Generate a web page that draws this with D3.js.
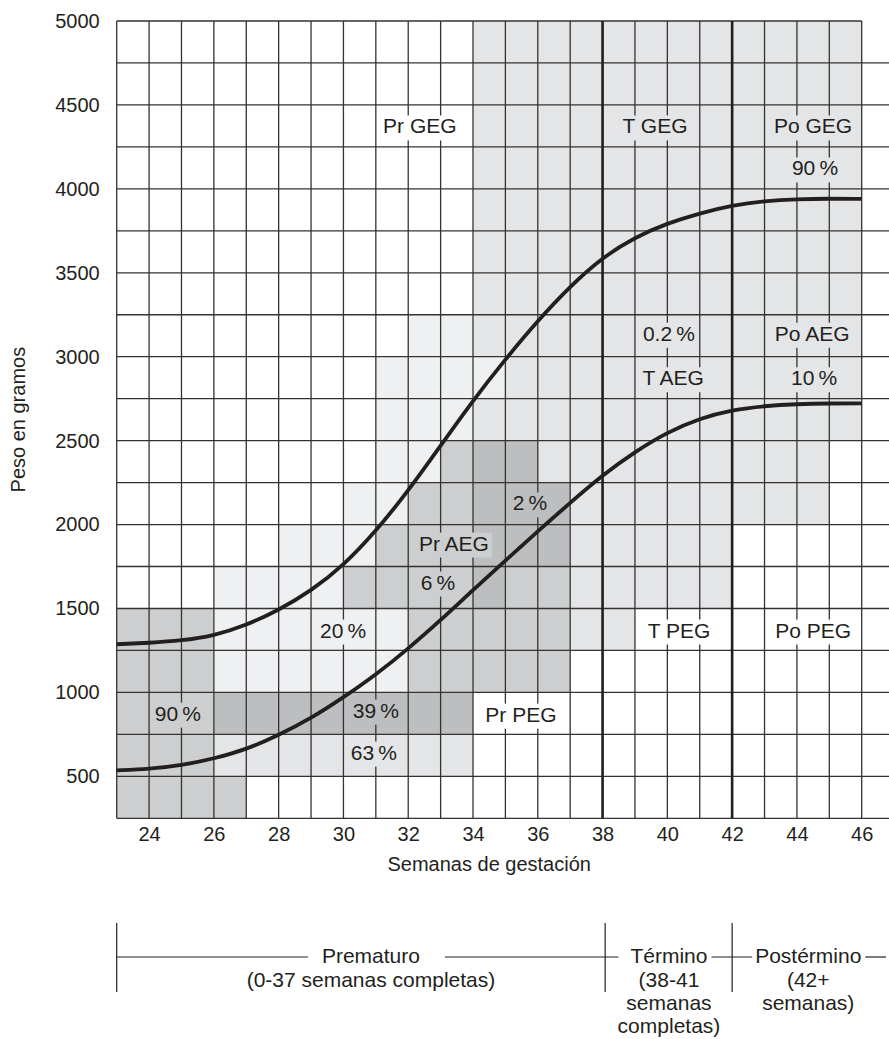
<!DOCTYPE html>
<html><head><meta charset="utf-8">
<script src="https://cdn.jsdelivr.net/npm/d3@7"></script>
<style>
body{margin:0;background:#fff}
svg{display:block}
text{font-family:"Liberation Sans",Arial,Helvetica,sans-serif;fill:#231f20}
</style>
</head><body>
<svg id="chart" width="889" height="1039"></svg>
<script>
// ---------- data ----------
const weeks = [23,24,25,26,27,28,29,30,31,32,33,34,35,36,37,38,39,40,41,42,43,44,45,46];
const p90 = [1287,1295,1308,1338,1400,1490,1605,1755,1960,2200,2470,2740,2985,3215,3420,3592,3712,3795,3855,3902,3928,3939,3942,3940];
const p10 = [536,544,566,605,660,745,845,970,1105,1260,1430,1610,1785,1960,2130,2295,2434,2550,2633,2683,2707,2718,2722,2722];
const xTicks = [24,26,28,30,32,34,36,38,40,42,44,46];
const yTicks = [500,1000,1500,2000,2500,3000,3500,4000,4500,5000];
const gridWeights = [250,500,750,1000,1250,1500,1750,2000,2250,2500,2750,3000,3250,3500,3750,4000,4250,4500,4750,5000];
const boldWeeks = [38,42];
// shaded zones: [week from, week to, grams from, grams to, shade level 1..4]
const zones = [
  [34,46,2500,5000,2],[36,45,2250,2500,2],[37,45,2000,2250,2],[37,42,1500,2000,2],[37,39,1250,1500,2],[26,34,500,750,2],
  [32,34,3000,3250,1],[31,35,2750,3000,1],[31,34,2500,2750,1],[31,33,2250,2500,1],[30,32,2000,2250,1],[28,31,1750,2000,1],[26,30,1500,1750,1],[26,32,1000,1500,1],
  [33,34,2250,2500,3],[32,34,2000,2250,3],[31,34,1750,2000,3],[30,34,1500,1750,3],[35,37,1500,1750,3],[32,37,1000,1500,3],[23,26,250,1500,3],[26,27,250,500,3],
  [34,36,2250,2500,4],[34,37,1750,2250,4],[34,35,1500,1750,4],[26,34,750,1000,4]
];
// labels: [text, week, grams, background shade level]
const labels = [
  ["Pr GEG",32.36,4375,0],["T GEG",39.62,4375,2],["Po GEG",44.5,4375,2],["90\u2009%",44.56,4125,2],
  ["0.2\u2009%",40.05,3140,2],["Po AEG",44.47,3140,2],["T AEG",40.18,2875,2],["10\u2009%",44.53,2875,2],
  ["2\u2009%",35.76,2129,4],["Pr AEG",33.41,1890,3],["6\u2009%",32.92,1658,3],
  ["20\u2009%",29.99,1372,1],["T PEG",40.36,1372,0],["Po PEG",44.5,1372,0],
  ["90\u2009%",24.89,877,3],["39\u2009%",31.0,895,4],["Pr PEG",35.48,871,0],["63\u2009%",30.94,645,2]
];
const termBounds = [23,38.08,42];
const termNames = ["Prematuro","Término","Postérmino"];
const termCenters = [30.85,40.05,44.35];
const termSubs = [["(0-37 semanas completas)"],["(38-41","semanas","completas)"],["(42+","semanas)"]];

// ---------- styles ----------
const shade = ["#ffffff","#eff0f2","#e4e5e7","#cdcecf","#bdbec0"];
const ink = "#231f20", gridCol = "#333333";

const svg = d3.select("#chart");
const x = d3.scaleLinear().domain([23,46]).range([116.7,861.7]);
const y = d3.scaleLinear().domain([250,5000]).range([818.3,21]);

// shaded cells
svg.append("g").selectAll("rect").data(zones).join("rect")
  .attr("x",d=>x(d[0])).attr("width",d=>x(d[1])-x(d[0]))
  .attr("y",d=>y(d[3])).attr("height",d=>y(d[2])-y(d[3]))
  .attr("fill",d=>shade[d[4]]);

// grid
const grid = svg.append("g");
grid.selectAll("line.h").data(gridWeights).join("line").attr("class","h")
  .attr("x1",x(23)).attr("x2",d=>d===5000?x(46):889)
  .attr("y1",d=>y(d)).attr("y2",d=>y(d))
  .attr("stroke",gridCol).attr("stroke-width",1.3);
grid.selectAll("line.v").data(weeks).join("line").attr("class","v")
  .attr("x1",d=>x(d)).attr("x2",d=>x(d))
  .attr("y1",y(5000)).attr("y2",y(250))
  .attr("stroke",d=>boldWeeks.includes(d)?"#1e1e1e":gridCol)
  .attr("stroke-width",d=>boldWeeks.includes(d)?2.6:1.3);

// labels with background boxes
const lg = svg.append("g");
labels.forEach(l=>{
  const g = lg.append("g");
  const t = g.append("text").attr("x",x(l[1])).attr("y",y(l[2])).attr("dy","0.36em")
    .attr("text-anchor","middle").attr("font-size",21).text(l[0]);
  const b = t.node().getBBox();
  g.insert("rect","text").attr("x",b.x-3).attr("y",b.y+1).attr("width",b.width+6).attr("height",b.height+2)
    .attr("fill",shade[l[3]]);
});

// curves
const line = d3.line().x((d,i)=>x(weeks[i])).y(d=>y(d)).curve(d3.curveBasis);
[p90,p10].forEach(s=>{
  svg.append("path").attr("d",line(s)).attr("fill","none").attr("stroke",ink).attr("stroke-width",3.8);
});

// axes
const ay = svg.append("g").attr("transform",`translate(${x(23)},0)`)
  .call(d3.axisLeft(y).tickValues(yTicks).tickSize(0).tickPadding(17).tickFormat(d3.format("d")));
ay.select(".domain").remove();
ay.selectAll("text").attr("font-size",20).attr("font-family",null).style("fill",ink);
const ax = svg.append("g").attr("transform",`translate(0,${y(250)})`)
  .call(d3.axisBottom(x).tickValues(xTicks).tickSize(0).tickPadding(8.5).tickFormat(d3.format("d")));
ax.select(".domain").remove();
ax.selectAll("text").attr("font-size",20).attr("font-family",null).style("fill",ink);

svg.append("text").attr("x",(x(23)+x(46))/2).attr("y",871).attr("text-anchor","middle")
  .attr("font-size",20).text("Semanas de gestación");
svg.append("text").attr("transform",`translate(25,${(y(250)+y(5000))/2}) rotate(-90)`)
  .attr("text-anchor","middle").attr("font-size",20).text("Peso en gramos");

// term bracket
const tg = svg.append("g");
const lineY = 957;
tg.selectAll("line.tv").data(termBounds).join("line").attr("class","tv")
  .attr("x1",d=>x(d)).attr("x2",d=>x(d)).attr("y1",923).attr("y2",992)
  .attr("stroke",ink).attr("stroke-width",1.2);
const baselines = [963,987,1010,1033];
const boxes = termNames.map((n,i)=>{
  const t = tg.append("text").attr("x",x(termCenters[i])).attr("y",baselines[0])
    .attr("text-anchor","middle").attr("font-size",21).text(n);
  termSubs[i].forEach((s,j)=>{
    tg.append("text").attr("x",x(termCenters[i])).attr("y",baselines[j+1])
      .attr("text-anchor","middle").attr("font-size",21).text(s);
  });
  return t.node().getBBox();
});
const segs = [
  [x(23), boxes[0].x-14],
  [boxes[0].x+boxes[0].width+25, boxes[1].x-12],
  [boxes[1].x+boxes[1].width+4, boxes[2].x-3],
  [boxes[2].x+boxes[2].width+4, 886]
];
tg.selectAll("line.th").data(segs).join("line").attr("class","th")
  .attr("x1",d=>d[0]).attr("x2",d=>d[1]).attr("y1",lineY).attr("y2",lineY)
  .attr("stroke",ink).attr("stroke-width",1.2);
</script>
</body></html>
